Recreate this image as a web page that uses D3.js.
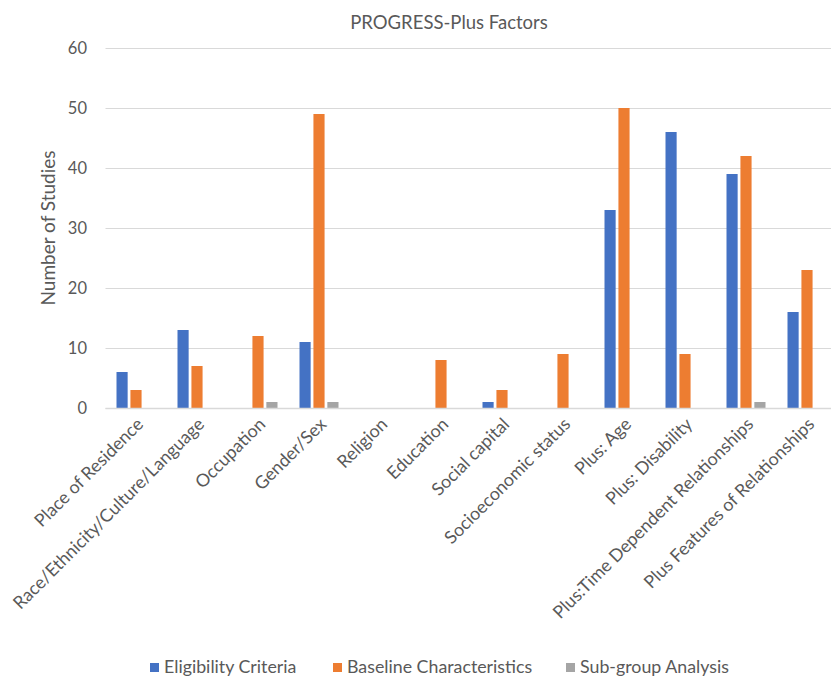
<!DOCTYPE html>
<html>
<head>
<meta charset="utf-8">
<script src="https://cdn.jsdelivr.net/npm/d3@7"></script>
<style>
  body { margin: 0; background: #fff; }
  svg { font-family: Lato, "Open Sans", sans-serif; }
</style>
</head>
<body>
<svg id="chart"></svg>
<script>
var categories = ["Place of Residence", "Race/Ethnicity/Culture/Language", "Occupation", "Gender/Sex",
  "Religion", "Education", "Social capital", "Socioeconomic status", "Plus: Age", "Plus: Disability",
  "Plus:Time Dependent Relationships", "Plus Features of Relationships"];
var seriesNames = ["Eligibility Criteria", "Baseline Characteristics", "Sub-group Analysis"];
var eligibility = [6, 13, 0, 11, 0, 0, 1, 0, 33, 46, 39, 16];
var baseline = [3, 7, 12, 49, 0, 8, 3, 9, 50, 9, 42, 23];
var subgroup = [0, 0, 1, 1, 0, 0, 0, 0, 0, 0, 1, 0];
var yTicks = [0, 10, 20, 30, 40, 50, 60];

var colors = ["#4472C4", "#ED7D31", "#A5A5A5"];
var width = 831, height = 676;
var svg = d3.select('#chart').attr('width', width).attr('height', height);

var seriesValues = [eligibility, baseline, subgroup];
var rows = categories.map(function (c, i) {
  return { name: c, values: seriesValues.map(function (s) { return s[i]; }) };
});

var x0 = d3.scaleBand().domain(categories).range([105.5, 837.5]).padding(0);
var x1 = d3.scaleBand().domain(d3.range(3)).range([11, 50]).paddingInner(0.2);
var y = d3.scaleLinear().domain([0, 60]).range([408, 48]);

// gridlines
svg.append('g').selectAll('line')
  .data(yTicks)
  .enter().append('line')
  .attr('x1', 105.5).attr('x2', width)
  .attr('y1', function (d) { return Math.round(y(d)) + 0.5; })
  .attr('y2', function (d) { return Math.round(y(d)) + 0.5; })
  .attr('stroke', '#D9D9D9')
  .attr('stroke-width', 1);

// y tick labels
svg.append('g').selectAll('text')
  .data(yTicks)
  .enter().append('text')
  .attr('x', 87)
  .attr('y', function (d) { return y(d); })
  .attr('dy', '0.35em')
  .attr('text-anchor', 'end')
  .attr('font-size', '16.5px')
  .attr('fill', '#595959')
  .text(function (d) { return d; });

// bars
var groups = svg.append('g').selectAll('g')
  .data(rows)
  .enter().append('g')
  .attr('transform', function (d) { return 'translate(' + x0(d.name) + ',0)'; });

groups.selectAll('rect')
  .data(function (d) { return d.values.map(function (v, i) { return { i: i, v: v }; }); })
  .enter().append('rect')
  .filter(function (d) { return d.v > 0; })
  .attr('x', function (d) { return x1(d.i); })
  .attr('width', x1.bandwidth())
  .attr('y', function (d) { return y(d.v); })
  .attr('height', function (d) { return y(0) - y(d.v); })
  .attr('fill', function (d) { return colors[d.i]; });

// axis line on top
svg.append('line')
  .attr('x1', 105.5).attr('x2', width)
  .attr('y1', 408.5).attr('y2', 408.5)
  .attr('stroke', '#D9D9D9')
  .attr('stroke-width', 1.5);

// x labels
svg.append('g').selectAll('text')
  .data(categories)
  .enter().append('text')
  .attr('transform', function (d) {
    return 'translate(' + (x0(d) + x0.bandwidth() / 2 + 4) + ',421) rotate(-45)';
  })
  .attr('dy', '0.35em')
  .attr('text-anchor', 'end')
  .attr('font-size', '17.8px')
  .attr('fill', '#595959')
  .text(function (d) { return d; });

// title
svg.append('text')
  .attr('x', 449).attr('y', 29)
  .attr('text-anchor', 'middle')
  .attr('font-size', '18.5px')
  .attr('fill', '#595959')
  .text('PROGRESS-Plus Factors');

// y axis title
svg.append('text')
  .attr('transform', 'translate(55,228) rotate(-90)')
  .attr('text-anchor', 'middle')
  .attr('font-size', '19px')
  .attr('fill', '#595959')
  .text('Number of Studies');

// legend
var legendX = [150, 333, 566];
var legend = svg.append('g').selectAll('g')
  .data(seriesNames)
  .enter().append('g')
  .attr('transform', function (d, i) { return 'translate(' + legendX[i] + ',667)'; });
legend.append('rect')
  .attr('x', 0).attr('y', -4)
  .attr('width', 9).attr('height', 9)
  .attr('fill', function (d, i) { return colors[i]; });
legend.append('text')
  .attr('x', 14).attr('y', 0)
  .attr('dy', '0.35em')
  .attr('font-size', '17.8px')
  .attr('fill', '#595959')
  .text(function (d) { return d; });
</script>
</body>
</html>
